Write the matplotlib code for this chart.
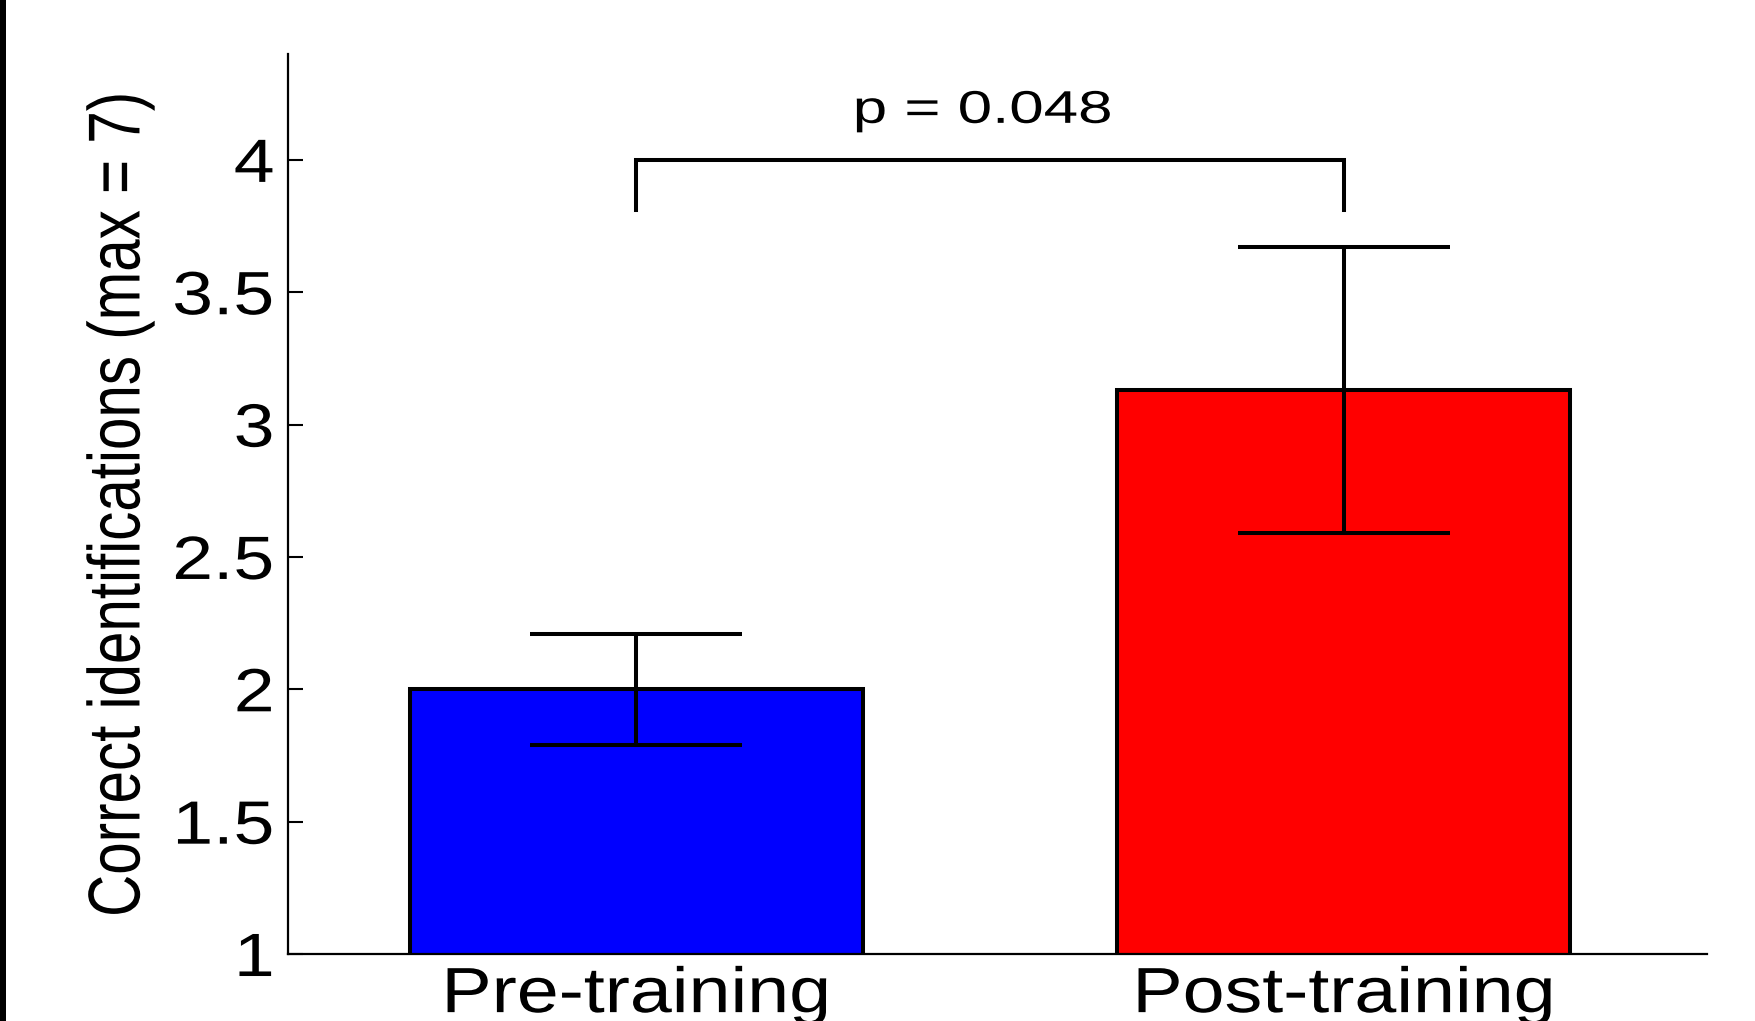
import matplotlib
matplotlib.use('Agg')
import matplotlib.pyplot as plt
import matplotlib.patheffects as PathEffects
from matplotlib.patches import Rectangle
from matplotlib.ticker import FormatStrFormatter
from matplotlib.transforms import Affine2D

plt.rcParams['font.family'] = ['Liberation Sans', 'DejaVu Sans']

# group means and error bar half-lengths
conditions = ['Pre-training', 'Post-training']
means = [2.0, 3.13]
errors = [0.21, 0.54]
bar_colors = ['#0000ff', '#ff0000']
p_value = 0.048


class WideText(PathEffects.AbstractPathEffect):
    """Draw text widened horizontally, keeping its centre (or right edge) fixed."""

    def __init__(self, sx=1.2, anchor='center'):
        super().__init__()
        self.sx = sx
        self.anchor = anchor

    def draw_path(self, renderer, gc, tpath, affine, rgbFace=None):
        ext = tpath.get_extents(affine)
        x0 = ext.x1 if self.anchor == 'right' else (ext.x0 + ext.x1) / 2
        stretch = Affine2D().translate(-x0, 0).scale(self.sx, 1).translate(x0, 0)
        renderer.draw_path(gc, tpath, affine + stretch, rgbFace)


fig = plt.figure(figsize=(17.56, 10.21), dpi=100)
ax = fig.add_axes([0.164, 0.0656, 0.808, 0.8815])

# thin black band down the left edge
fig.patches.append(Rectangle((0, 0), 6 / 1756, 1, transform=fig.transFigure,
                             facecolor='black', edgecolor='none', zorder=0))

x = [1, 2]
ax.bar(x, means, width=0.64, color=bar_colors, edgecolor='black', linewidth=2.9, zorder=2)
ax.errorbar(x, means, yerr=errors, fmt='none', ecolor='black', elinewidth=2.9,
            capsize=76, capthick=2.9, zorder=3)

# significance bracket between the two bars
bracket_top = 4.0
bracket_foot = 3.81
ax.plot([x[0], x[0], x[1], x[1]], [bracket_foot, bracket_top, bracket_top, bracket_foot],
        color='black', linewidth=2.9, solid_joinstyle='miter', clip_on=False, zorder=3)
ptxt = ax.text(1.49, 4.14, 'p = %.3f' % p_value, ha='center', va='baseline', fontsize=33)
ptxt.set_path_effects([WideText(1.35)])

ax.set_xlim(0.508, 2.513)
ax.set_ylim(1, 4.4)
ax.set_yticks([1, 1.5, 2, 2.5, 3, 3.5, 4])
ax.yaxis.set_major_formatter(FormatStrFormatter('%g'))
ax.set_xticks(x)
ax.set_xticklabels(conditions)

ax.tick_params(axis='y', direction='in', length=11, width=1.5, labelsize=44, pad=10)
ax.tick_params(axis='x', length=0, labelsize=46, pad=8)
for lab in ax.get_yticklabels():
    lab.set_path_effects([WideText(1.2, 'right')])
for lab in ax.get_xticklabels():
    lab.set_path_effects([WideText(1.18)])

ax.spines['top'].set_visible(False)
ax.spines['right'].set_visible(False)
ax.spines['left'].set_linewidth(1.6)
ax.spines['bottom'].set_linewidth(1.6)

ylab = ax.set_ylabel('Correct identifications (max = 7)', fontsize=42)
ylab.set_path_effects([WideText(1.26, 'right')])
ax.yaxis.set_label_coords(-0.094, 0.5)

fig.savefig('out.png', dpi=100)
